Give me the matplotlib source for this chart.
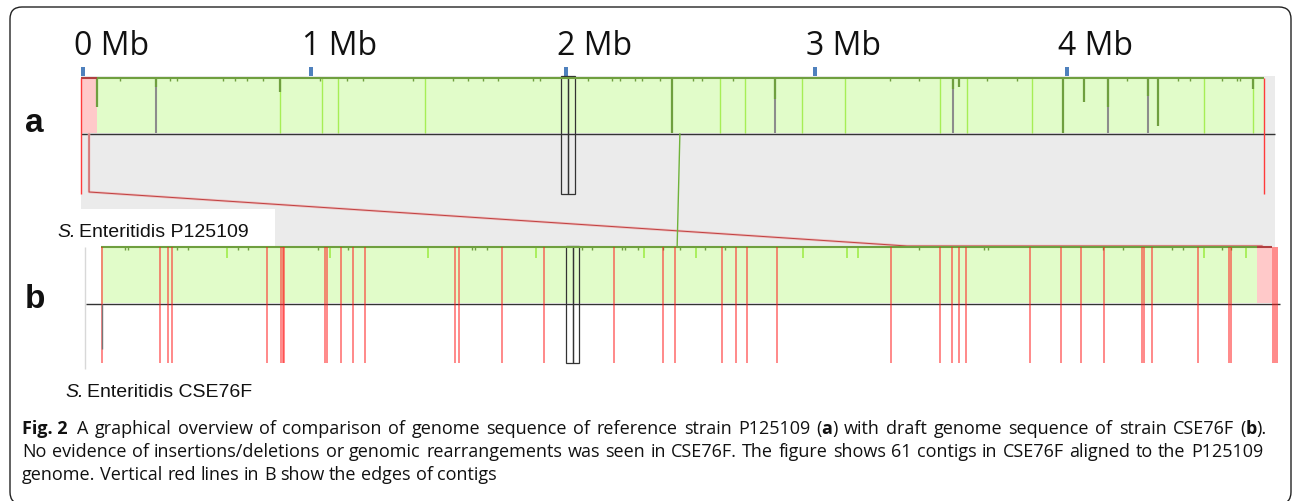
import matplotlib
matplotlib.use("Agg")
import matplotlib.pyplot as plt
from matplotlib.patches import Rectangle, FancyBboxPatch
from matplotlib.transforms import IdentityTransform

# ---- data (positions in Mb) ----
ruler_pos = [0.008, 0.916, 1.932, 2.924, 3.928]
ruler_labels = ["0 Mb", "1 Mb", "2 Mb", "3 Mb", "4 Mb"]

# genome a : S. Enteritidis P125109
a_start = 0.064
a_end = 4.713
a_bg_end = 4.757
a_red_block = (0.0, 0.064)
a_boundaries = [0.299, 2.765, 3.474, 4.092, 4.251]
a_boundary_depth = [0.16, 0.38, 0.20, 0.53, 0.33]
a_dips = [0.064, 0.793, 2.355, 3.498, 3.912, 3.996, 4.291, 4.669]
a_dip_depth = [0.53, 0.25, 1.0, 0.16, 1.0, 0.44, 0.87, 0.20]
a_light = [0.793, 0.960, 1.024, 1.371, 2.546, 2.645, 2.873, 3.044, 3.422,
           3.530, 3.789, 4.474, 4.669]
a_small = [0.155, 0.355, 0.382, 0.566, 0.614, 0.661, 0.725, 0.952, 1.060,
           1.124, 1.323, 1.482, 1.542, 1.602, 1.661, 1.801, 1.829, 2.020,
           2.116, 2.147, 2.207, 2.235, 2.307, 2.438, 2.474, 2.598, 3.223,
           3.339, 3.610, 3.729, 4.167, 4.371, 4.418, 4.546, 4.606, 4.618]

# genome b : S. Enteritidis CSE76F (draft, contigs)
b_start = 0.080
b_end = 4.685
b_axis = (0.020, 4.777)
b_red_block = (4.685, 4.745)
contig_edges = [0.082, 0.315, 0.345, 0.364, 0.740, 0.796, 0.804, 0.810,
                0.972, 0.979, 1.036, 1.082, 1.133, 1.490, 1.505, 1.678,
                1.843, 2.125, 2.319, 2.368, 2.554, 2.610, 2.655, 2.773,
                3.226, 3.424, 3.470, 3.498, 3.527, 3.782, 3.904, 3.984,
                4.076, 4.228, 4.235, 4.267, 4.450, 4.575, 4.582, 4.749,
                4.756, 4.764]
b_light = [0.582, 0.992, 1.382, 1.813, 2.243, 2.450, 2.876, 3.052, 3.096,
           4.474, 4.641]
b_light_depth = 0.2
b_small = [0.175, 0.187, 0.382, 0.426, 0.625, 0.665, 0.944, 1.064, 1.558,
           1.570, 1.618, 1.996, 2.036, 2.155, 2.167, 2.219, 2.319, 2.386,
           2.486, 2.566, 3.339, 3.598, 3.614, 4.072, 4.151, 4.347, 4.390,
           4.546, 4.582]

# connectors between the genomes
red_link_x = [0.032, 0.032, 3.291, 4.705]
green_link_x = [2.386, 2.375]
a_select = [1.914, 1.940, 1.968]
b_select = [1.932, 1.959, 1.984]

# caption (*...* = bold)
caption = [
    "*Fig. 2* A graphical overview of comparison of genome sequence of "
    "reference strain P125109 (*a*) with draft genome sequence of strain "
    "CSE76F (*b*).",
    "No evidence of insertions/deletions or genomic rearrangements was seen "
    "in CSE76F. The figure shows 61 contigs in CSE76F aligned to the P125109",
    "genome. Vertical red lines in B show the edges of contigs",
]

# ---- layout (pixels, y down) ----
W, H = 1293, 502
X0, PXMB = 81, 251.0
A_TOP, A_MID, A_LOW = 79, 135, 195
BG_TOP, BG_BOT = 77, 248
B_TOP, B_MID, B_LOW = 248, 305, 364


def px(x):
    return (x - X0) / PXMB


GREEN_FILL = "#E1FCC9"
GREEN_EDGE = "#6F9F3F"
GREEN_LIGHT = "#A6EE55"
GREY_BG = "#EBEBEB"
PINK = "#FFC9C9"
INK = "#111111"

fig = plt.figure(figsize=(W / 100, H / 100), dpi=100)
ax = fig.add_axes([0, 0, 1, 1])
ax.set_xlim(px(0), px(W))
ax.set_ylim(H, 0)
ax.axis("off")
# pixel axes for the free text
tx = fig.add_axes([0, 0, 1, 1], facecolor="none")
tx.set_xlim(0, W)
tx.set_ylim(H, 0)
tx.axis("off")

# outer rounded frame
fig.patches.append(FancyBboxPatch((10, -3), 1281, 497,
                                  boxstyle="round,pad=0,rounding_size=12",
                                  transform=IdentityTransform(), fc="none",
                                  ec="#222222", lw=1.0))

# ruler
for pos, lab in zip(ruler_pos, ruler_labels):
    ax.add_patch(Rectangle((pos - 2 / PXMB, 68), 4 / PXMB, 10,
                           fc="#4F81BD", ec="none"))
    ax.annotate(lab, xy=(pos, 55), xytext=(-9, 0), textcoords="offset pixels",
                ha="left", va="baseline", fontsize=23, family="Open Sans",
                color=INK)

# grey background of the alignment
ax.add_patch(Rectangle((0, BG_TOP), a_bg_end, BG_BOT - BG_TOP,
                       fc=GREY_BG, ec="none"))

# ---- genome a ----
ha = A_MID - 1 - A_TOP
ax.add_patch(Rectangle((a_start, A_TOP), a_end - a_start, ha,
                       fc=GREEN_FILL, ec="none"))
ax.add_patch(Rectangle((a_red_block[0], A_TOP), a_red_block[1] - a_red_block[0],
                       ha, fc=PINK, ec="none"))
ax.vlines(a_light, A_TOP, A_TOP + ha, color=GREEN_LIGHT, lw=1.0)
ax.vlines(a_boundaries, A_TOP, A_TOP + ha, color="#8C8C8C", lw=1.5)
for x, d in zip(a_boundaries, a_boundary_depth):
    ax.vlines(x, A_TOP, A_TOP + d * ha, color=GREEN_EDGE, lw=1.6)
for x, d in zip(a_dips, a_dip_depth):
    ax.vlines(x, A_TOP, A_TOP + d * ha, color=GREEN_EDGE, lw=1.6)
ax.vlines(a_small, A_TOP, A_TOP + 3, color=GREEN_EDGE, lw=1.0)
ax.hlines(A_TOP, a_start, a_end, color=GREEN_EDGE, lw=1.5)
ax.hlines(A_TOP, a_red_block[0], a_red_block[1], color="#B04040", lw=1.5)
ax.hlines(A_MID, 0, a_bg_end, color="#333333", lw=1.0)

# red block edges in a and end line
ax.vlines(a_red_block[0], A_TOP, A_LOW, color="#FF3B3B", lw=1.0)
ax.vlines(a_end, A_TOP, A_LOW, color="#FF3B3B", lw=1.0)

# connectors
link_y = [A_MID, A_LOW - 2, B_TOP - 1, B_TOP - 1]
ax.plot(red_link_x, link_y, color="#EDBDBD", lw=1.8)
ax.plot(red_link_x, link_y, color="#C04040", lw=0.7)
ax.plot(green_link_x, [A_MID, B_TOP], color="#6FB33A", lw=1.0)

# ---- genome b ----
hb = B_MID - 1 - B_TOP
ax.vlines(px(85), B_TOP, 370, color="#D8D8D8", lw=1.0)
ax.add_patch(Rectangle((b_start, B_TOP), b_end - b_start, hb,
                       fc=GREEN_FILL, ec="none"))
ax.add_patch(Rectangle((b_red_block[0], B_TOP), b_red_block[1] - b_red_block[0],
                       hb, fc=PINK, ec="none"))
ax.vlines(b_light, B_TOP, B_TOP + b_light_depth * hb, color=GREEN_LIGHT, lw=1.3)
ax.vlines(b_small, B_TOP, B_TOP + 3, color=GREEN_EDGE, lw=1.0)
ax.hlines(B_TOP, b_start, b_end, color=GREEN_EDGE, lw=1.5)
ax.hlines(B_TOP, b_red_block[0], b_red_block[1], color="#B04040", lw=1.5)
ax.hlines(B_MID, b_axis[0], b_axis[1], color="#333333", lw=1.0)
ax.vlines(contig_edges, B_TOP, B_LOW, color="#FF1A1A", lw=1.1, alpha=0.65)
ax.vlines(b_start + 0.002, B_MID, 350, color="#777777", lw=1.0)

# selection boxes (thin black outlines)
for xs, y0, y1 in [(a_select, BG_TOP, A_LOW), (b_select, B_TOP - 1, B_LOW)]:
    for l, r in zip(xs[:-1], xs[1:]):
        ax.add_patch(Rectangle((l, y0), r - l, y1 - y0, fc="none",
                               ec="#333333", lw=0.9))

# white label box behind the first genome name
ax.add_patch(Rectangle((px(48), 210), px(275) - px(48), BG_BOT - 210,
                       fc="white", ec="none"))

# ---- text ----
renderer = fig.canvas.get_renderer()


def place_words(x, y, words, size, family, right=None, extra=None):
    """words: list of lists of (text, bold); justified if right is given"""
    arts, widths = [], []
    for word in words:
        row, wsum = [], 0.0
        for s, bold in word:
            t = tx.text(0, y, s, fontsize=size, family=family, color=INK,
                        fontweight="bold" if bold else "normal",
                        ha="left", va="baseline")
            w = t.get_window_extent(renderer).width
            row.append((t, w))
            wsum += w
        arts.append(row)
        widths.append(wsum)
    extra = extra or {}
    fixed = sum(widths) + sum(extra.values())
    space = size * 100 / 72 * 0.26
    if right is not None and len(words) > 1:
        space = (right - x - fixed) / (len(words) - 1)
    cx = x
    for i, row in enumerate(arts):
        for t, w in row:
            t.set_x(cx)
            cx += w
        cx += space + extra.get(i, 0)


def parse(line):
    words = []
    bold = False
    for raw in line.split(" "):
        word = []
        for j, piece in enumerate(raw.split("*")):
            if j > 0:
                bold = not bold
            if piece:
                word.append((piece, bold))
        words.append(word)
    # keep "Fig. 2" together
    if words and words[0] and words[0][0][0] == "Fig.":
        words = [[("Fig.\u00a02", True)]] + words[2:]
    return words


CAP = 13
place_words(22, 434, parse(caption[0]), CAP, "Open Sans", right=1267,
            extra={0: 3})
place_words(22, 457, parse(caption[1]), CAP, "Open Sans", right=1263)
place_words(22, 480, parse(caption[2]), CAP, "Open Sans")


def name(x, y, rest):
    t = tx.text(x, y, "S.", fontsize=14, family="Liberation Sans",
                style="italic", color=INK, ha="left", va="baseline")
    tx.annotate(rest, xy=(1, 0), xycoords=t, xytext=(4, 0),
                textcoords="offset pixels", fontsize=14,
                family="Liberation Sans", color=INK, ha="left", va="bottom")


name(57, 237, "Enteritidis P125109")
name(65, 397, "Enteritidis CSE76F")

tx.text(25, 132, "a", fontsize=24, fontweight="bold",
        family="Liberation Sans", ha="left", va="baseline", color=INK)
tx.text(25, 308, "b", fontsize=24, fontweight="bold",
        family="Liberation Sans", ha="left", va="baseline", color=INK)

fig.savefig("out.png", dpi=100)
